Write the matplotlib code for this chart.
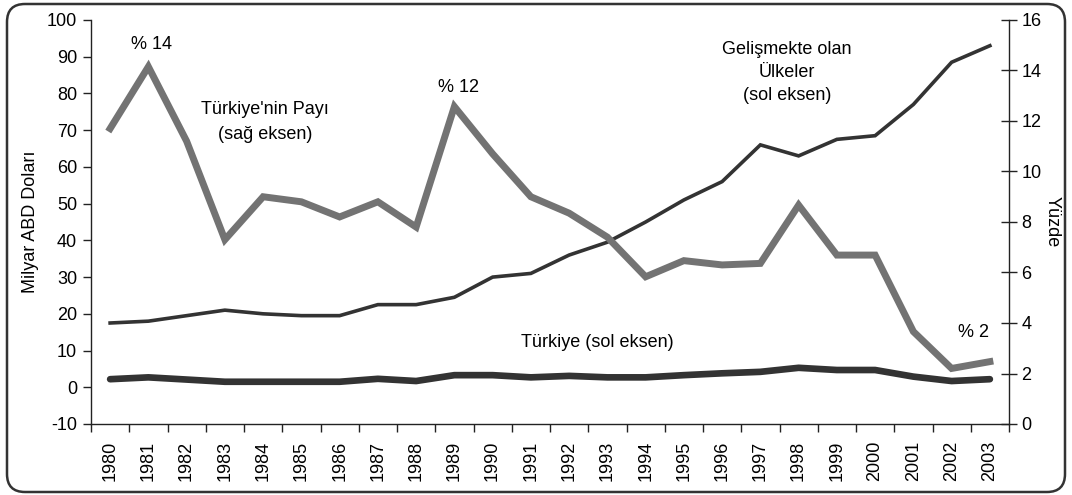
import matplotlib
matplotlib.use("Agg")
import matplotlib.pyplot as plt
from matplotlib.patches import FancyBboxPatch
from matplotlib.transforms import IdentityTransform
import numpy as np

plt.rcParams['font.family'] = ['Liberation Sans', 'DejaVu Sans']
plt.rcParams['axes.unicode_minus'] = False

years = [str(y) for y in range(1980, 2004)]
gelismekte = [17.5, 18, 19.5, 21, 20, 19.5, 19.5, 22.5, 22.5, 24.5, 30, 31, 36, 39.5,
              45, 51, 56, 66, 63, 67.5, 68.5, 77, 88.5, 93]
turkiye = [2.2, 2.7, 2.1, 1.5, 1.5, 1.5, 1.5, 2.3, 1.7, 3.3, 3.3, 2.7, 3.1, 2.7,
           2.7, 3.3, 3.8, 4.2, 5.3, 4.7, 4.7, 2.9, 1.7, 2.2]
pay = [11.7, 14.15, 11.2, 7.3, 9.0, 8.8, 8.2, 8.8, 7.8, 12.57, 10.7, 9.0, 8.35, 7.4,
       5.83, 6.47, 6.3, 6.36, 8.67, 6.69, 6.69, 3.66, 2.2, 2.47]

W, H = 1072, 495
fig = plt.figure(figsize=(W / 100, H / 100), dpi=100)
ax = fig.add_axes([91 / W, 1 - 424 / H, (1009 - 91) / W, (424 - 20) / H])
ax2 = ax.twinx()

x = np.arange(len(years))
dark = '#333333'
ax.plot(x, gelismekte, color=dark, lw=2.6, solid_joinstyle='miter', zorder=3)
ax.plot(x, turkiye, color=dark, lw=4.8, solid_capstyle='round', zorder=3)
ax2.plot(x, pay, color='#737373', lw=5, solid_joinstyle='miter', zorder=3)

ax.set_xlim(-0.5, len(years) - 0.5)
ax.set_ylim(-10, 100)
ax.set_yticks(np.arange(-10, 101, 10))
ax2.set_ylim(0, 16)
ax2.set_yticks(np.arange(0, 17, 2))

fs = 13
ax.set_xticks(x)
ax.set_xticklabels(years, rotation=90, fontsize=fs)
ax.set_xticks(np.arange(-0.5, len(years), 1), minor=True)
ax.tick_params(axis='x', which='major', length=0, pad=12)
ax.tick_params(axis='x', which='minor', length=6, direction='out', width=1, color='#222222')
ax.tick_params(axis='y', length=6, direction='out', labelsize=fs, width=1, color='#222222', pad=4)
ax2.tick_params(axis='y', length=12, direction='inout', labelsize=fs, width=1, color='#222222', pad=3)

for a in (ax, ax2):
    a.spines['top'].set_visible(False)
    for s in ('left', 'right', 'bottom'):
        a.spines[s].set_color('#222222')
        a.spines[s].set_linewidth(1)
ax.spines['right'].set_visible(False)
ax2.spines['left'].set_visible(False)
ax2.spines['bottom'].set_visible(False)

ax.set_ylabel('Milyar ABD Doları', fontsize=fs, labelpad=6)
ax2.set_ylabel('Yüzde', fontsize=fs, rotation=270, labelpad=14)

ax.text(1.09, 93.2, '% 14', ha='center', va='center', fontsize=fs)
ax.text(4.05, 72.2, "Türkiye'nin Payı\n(sağ eksen)", ha='center', va='center', fontsize=fs, linespacing=1.6)
ax.text(9.1, 81.75, '% 12', ha='center', va='center', fontsize=fs)
ax.text(17.7, 85.8, 'Gelişmekte olan\nÜlkeler\n(sol eksen)', ha='center', va='center', fontsize=fs, linespacing=1.45)
ax.text(12.73, 12.3, 'Türkiye (sol eksen)', ha='center', va='center', fontsize=fs)
ax.text(22.56, 14.8, '% 2', ha='center', va='center', fontsize=fs)

border = FancyBboxPatch((7, 3), W - 14, H - 7,
                        boxstyle='round,pad=0,rounding_size=18',
                        transform=IdentityTransform(), fill=False,
                        edgecolor='#333333', lw=1.8)
fig.patches.append(border)

fig.savefig('out.png', dpi=100)
